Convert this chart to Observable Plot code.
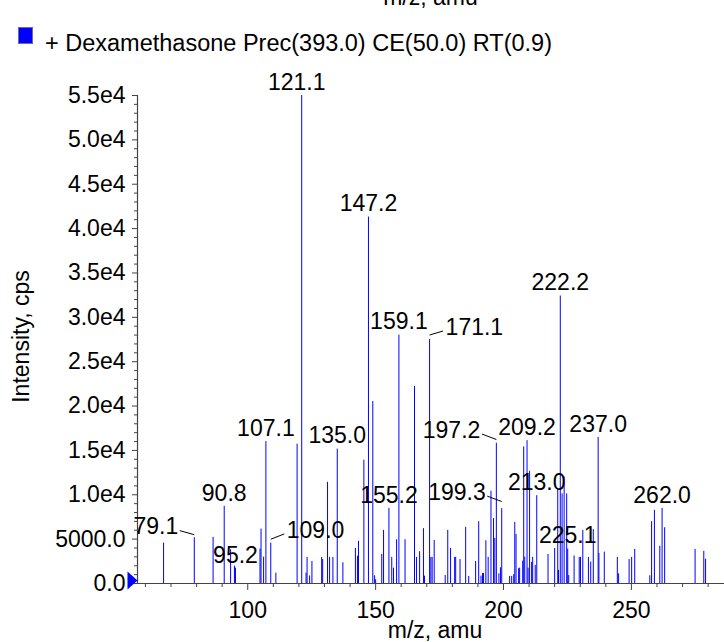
<!DOCTYPE html>
<html>
<head>
<meta charset="utf-8">
<script src="https://cdn.jsdelivr.net/npm/d3@7"></script>
<script src="https://cdn.jsdelivr.net/npm/@observablehq/plot@0.6"></script>
<style>
  html, body { margin: 0; padding: 0; background: #fff; }
  #wrap { width: 724px; height: 642px; overflow: hidden; position: relative; font-family: "Liberation Sans", Arial, sans-serif; color: #000; }
  #top { position: relative; height: 60px; }
  #cut { position: absolute; left: 137px; width: 587px; top: -14px; text-align: center; font-size: 23px; line-height: 23px; }
  #sw { position: absolute; left: 18px; top: 27px; width: 15px; height: 17px; background: #0000ff; border: 1px solid #6a6aa8; box-sizing: border-box; }
  #legendText { position: absolute; left: 45px; top: 32px; font-size: 23.5px; line-height: 23px; white-space: nowrap; }
  svg { display: block; }
</style>
</head>
<body>
<div id="wrap">
  <div id="top">
    <div id="cut">m/z, amu</div>
    <div id="sw"></div>
    <div id="legendText"></div>
  </div>
  <div id="chart"></div>
</div>
<script>
// ---- data ----
const seriesName = "+ Dexamethasone Prec(393.0) CE(50.0) RT(0.9)";
const xTitle = "m/z, amu";
const yTitle = "Intensity, cps";

const mz = [67.1, 79.1, 86.45, 90.8, 93.3, 94.8, 95.2, 104.8, 105.2, 106.2, 107.1, 109.0, 111.0,
  119.3, 121.1, 122.8, 123.2, 124.2, 125.1, 128.9, 129.3, 131.2, 132.0, 133.3, 135.0, 137.2,
  142.1, 142.9, 143.3, 145.4, 147.2, 148.9, 149.6, 150.0, 152.4, 153.1, 155.2, 156.3, 157.0, 158.2,
  159.1, 161.5, 165.2, 166.0, 167.2, 168.7, 169.1, 171.1, 171.6, 172.1, 172.9, 177.2, 178.2, 179.3,
  180.9, 181.3, 183.0, 185.2, 186.4, 189.1, 190.3, 191.2, 191.8, 192.2, 193.1, 194.0, 195.1, 196.1,
  196.6, 197.2, 198.2, 198.8, 199.3, 202.4, 203.2, 204.0, 204.4, 204.9, 205.9, 206.3, 207.5, 207.9,
  208.3, 209.2, 209.6, 210.2, 211.0, 211.4, 212.4, 213.0, 217.4, 220.0, 221.2, 221.5, 222.2, 222.9,
  223.7, 224.7, 225.1, 225.5, 227.6, 229.6, 230.1, 231.0, 233.2, 234.1, 235.1, 237.0, 237.3, 239.4,
  244.5, 245.0, 249.1, 250.1, 251.3, 257.2, 257.9, 259.0, 261.1, 262.0, 263.0, 274.9, 278.3, 279.0];

const intensity = [4550, 5160, 5200, 8700, 3800, 1950, 1730, 3880, 6140, 2970, 16000, 4550, 1170,
  15700, 55000, 1170, 2940, 850, 2480, 2940, 2700, 11400, 2940, 2940, 15150, 2340,
  3950, 3080, 4750, 13900, 41300, 20500, 870, 420, 3280, 5990, 8470, 2940, 1730, 4930,
  28000, 4930, 22200, 2940, 3580, 6180, 830, 27500, 2940, 2940, 4860, 900, 5990, 3950,
  2940, 2940, 2700, 6330, 800, 2480, 6970, 830, 1130, 1130, 4820, 2940, 10400, 7310,
  5080, 15800, 1090, 1770, 8440, 800, 800, 1000, 6890, 5530, 1660, 1730, 2520, 15400,
  2970, 16100, 1730, 12640, 2380, 2940, 2040, 9900, 3280, 3960, 10600, 1470, 32400, 10100,
  12000, 10100, 3880, 900, 3100, 2940, 2940, 5990, 2940, 2420, 6070, 16460, 3390, 3540,
  2940, 1090, 2700, 2940, 3840, 870, 6970, 8250, 4200, 8470, 6290, 3840, 3620, 2750];

// labelled peaks (text = m/z of the peak)
const centerLabels = ["121.1", "147.2", "159.1", "222.2", "107.1", "135.0", "155.2", "90.8",
  "95.2", "209.2", "237.0", "213.0", "225.1", "262.0"];
const leaderLabels = ["79.1", "109.0", "171.1", "197.2", "199.3"];

const xTicksMajor = [100, 150, 200, 250];
const xTicksMinor = [60, 70, 80, 90, 110, 120, 130, 140, 160, 170, 180, 190, 210, 220, 230, 240, 260, 270, 280];
const yTicksMajor = [0, 5000, 10000, 15000, 20000, 25000, 30000, 35000, 40000, 45000, 50000, 55000];
const yTickLabels = ["0.0", "5000.0", "1.0e4", "1.5e4", "2.0e4", "2.5e4", "3.0e4", "3.5e4", "4.0e4", "4.5e4", "5.0e4", "5.5e4"];
const xDomain = [56.9, 286.4];
const yDomain = [0, 55000];

// ---- layout / style (not data) ----
const labelShift = {"121.1": -5};
const leaderLayout = {
  "79.1":  {side: -1, dy: -10.6, end: -2.5},
  "109.0": {side:  1, dy: -12.7, end: -3.4},
  "171.1": {side:  1, dy: -12.0, end: -4.0},
  "197.2": {side: -1, dy: -12.8, end: -3.3},
  "199.3": {side: -1, dy: -16.0, end: -6.6}
};

document.getElementById("legendText").textContent = seriesName;

const peaks = mz.map((m, i) => ({mz: m, intensity: intensity[i]}));
const peakOf = (lab) => peaks.find(p => Math.abs(p.mz - +lab) < 1e-6);
const yMinor = d3.range(0, 55001, 1000).filter(v => v % 5000 !== 0);
const font = "Liberation Sans, Arial, Helvetica, sans-serif";
const fs = 23;
const blue = "#0000ff";
const axisColor = "#444";

const rightTriangle = {
  draw(ctx) { ctx.moveTo(0, 0); ctx.lineTo(-10, -9); ctx.lineTo(-10, 9); ctx.closePath(); }
};

const centerData = centerLabels.map(l => ({...peakOf(l), label: l}));

const marks = [
  Plot.ruleX(peaks, {x: "mz", y1: 0, y2: "intensity", stroke: blue, strokeWidth: 1}),
  // axis lines
  Plot.ruleY([0], {stroke: axisColor, strokeWidth: 1.2}),
  Plot.ruleX([xDomain[0]], {y1: yDomain[0], y2: yDomain[1], stroke: axisColor, strokeWidth: 1.2}),
  // y axis
  Plot.axisY(yTicksMajor, {tickSize: 5, tickPadding: 7, stroke: axisColor, fill: "#000",
    tickFormat: (d) => yTickLabels[yTicksMajor.indexOf(d)], label: null, fontSize: fs}),
  Plot.axisY(yMinor, {tickSize: 3, tickFormat: () => "", label: null, stroke: axisColor}),
  // x axis
  Plot.axisX(xTicksMajor, {tickSize: 7, tickPadding: 11, stroke: axisColor, fill: "#000",
    tickFormat: (d) => String(d), label: null, fontSize: fs}),
  Plot.axisX(xTicksMinor, {tickSize: 4, tickFormat: () => "", label: null, stroke: axisColor}),
  // axis titles
  Plot.text([xTitle], {frameAnchor: "bottom", textAnchor: "middle", dy: 47, dx: 4, lineAnchor: "middle", fontSize: fs, fill: "#000"}),
  Plot.text([yTitle], {frameAnchor: "left", textAnchor: "middle", rotate: -90, dx: -116, dy: -3, lineAnchor: "middle", fontSize: fs, fill: "#000"}),
  // origin marker
  Plot.dot([0], {x: () => xDomain[0], y: () => 0, symbol: rightTriangle, fill: blue, stroke: "none", dy: -3}),
  // centred peak labels
  Plot.text(centerData.filter(d => !labelShift[d.label]), {x: "mz", y: "intensity", text: "label",
    textAnchor: "middle", lineAnchor: "middle", dy: -13, fontSize: fs, fill: "#000"})
];
for (const [lab, dx] of Object.entries(labelShift)) {
  marks.push(Plot.text(centerData.filter(d => d.label === lab), {x: "mz", y: "intensity", text: "label",
    textAnchor: "middle", lineAnchor: "middle", dx, dy: -13, fontSize: fs, fill: "#000"}));
}
for (const lab of leaderLabels) {
  const L = leaderLayout[lab];
  marks.push(Plot.text([{...peakOf(lab), label: lab}], {x: "mz", y: "intensity", text: "label",
    textAnchor: L.side < 0 ? "end" : "start", lineAnchor: "middle",
    dx: L.side * 16, dy: L.dy, fontSize: fs, fill: "#000"}));
}

const chart = Plot.plot({
  width: 724, height: 582,
  marginLeft: 137, marginRight: 0, marginTop: 35, marginBottom: 59,
  style: {fontFamily: font, fontSize: fs + "px", background: "#fff", color: "#000", overflow: "visible"},
  x: {domain: xDomain},
  y: {domain: yDomain},
  marks
});

// leader lines, positioned through the chart's own scales
const sx = chart.scale("x"), sy = chart.scale("y");
const g = d3.select(chart).append("g").attr("stroke", "#000").attr("stroke-width", 1).attr("fill", "none");
for (const lab of leaderLabels) {
  const L = leaderLayout[lab];
  const p = peakOf(lab);
  const px = sx.apply(p.mz), py = sy.apply(p.intensity);
  g.append("line")
    .attr("x1", px + L.side * 14).attr("y1", py + L.dy + 4)
    .attr("x2", px + 0.5).attr("y2", py + L.end);
}

document.getElementById("chart").appendChild(chart);
</script>
</body>
</html>
